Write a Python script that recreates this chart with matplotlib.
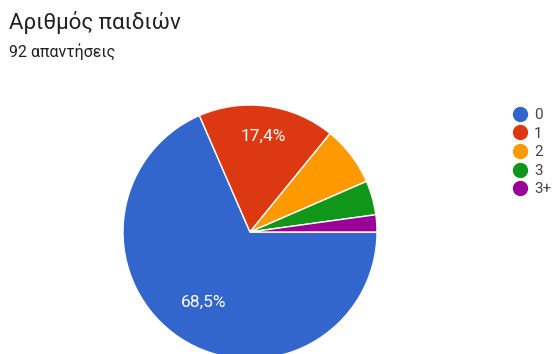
import matplotlib
matplotlib.use('Agg')
import matplotlib.pyplot as plt
from matplotlib.lines import Line2D

plt.rcParams['font.family'] = ['Roboto', 'DejaVu Sans']

# data
title = 'Αριθμός παιδιών'
subtitle = '92 απαντήσεις'
categories = ['0', '1', '2', '3', '3+']
counts = [63, 16, 7, 4, 2]
colors = ['#3366CC', '#DC3912', '#FF9900', '#109618', '#990099']

W, H = 555, 354
fig = plt.figure(figsize=(W / 100, H / 100), dpi=100)

# pie centre at (250, 232) px, radius 127 px -> bottom is cut by the figure edge
cx, cy, r = 250, H - 232, 127
ax = fig.add_axes([(cx - r) / W, (cy - r) / H, 2 * r / W, 2 * r / H])


def fmt(p):
    return ('%.1f%%' % p).replace('.', ',') if p >= 10 else ''


wedges, texts, autotexts = ax.pie(counts, colors=colors, startangle=0, counterclock=False,
                                  autopct=fmt, pctdistance=0.7,
                                  wedgeprops=dict(edgecolor='white', linewidth=1),
                                  textprops=dict(color='white', fontsize=12.5))
ax.set_xlim(-1, 1)
ax.set_ylim(-1, 1)
ax.set_aspect('equal')

# nudge labels to where google forms puts them
label_dist = [0.66, 0.76]
for t, d in zip(autotexts[:2], label_dist):
    x, y = t.get_position()
    n = (x * x + y * y) ** 0.5
    t.set_position((x / n * d, y / n * d))

fig.text(9 / W, 1 - 22 / H, title, fontsize=16, color='#212121', va='center', ha='left')
fig.text(9 / W, 1 - 52 / H, subtitle, fontsize=11.5, color='#212121', va='center', ha='left')

handles = [Line2D([], [], marker='o', linestyle='', markersize=10,
                  markerfacecolor=c, markeredgecolor=c) for c in colors]
fig.legend(handles, categories, loc='upper left', bbox_to_anchor=(505 / W, 1 - 102 / H),
           frameon=False, fontsize=11, handletextpad=0.3, labelspacing=0.3,
           borderaxespad=0, handlelength=1.2, labelcolor='#444444')

fig.savefig('out.png', dpi=100)
